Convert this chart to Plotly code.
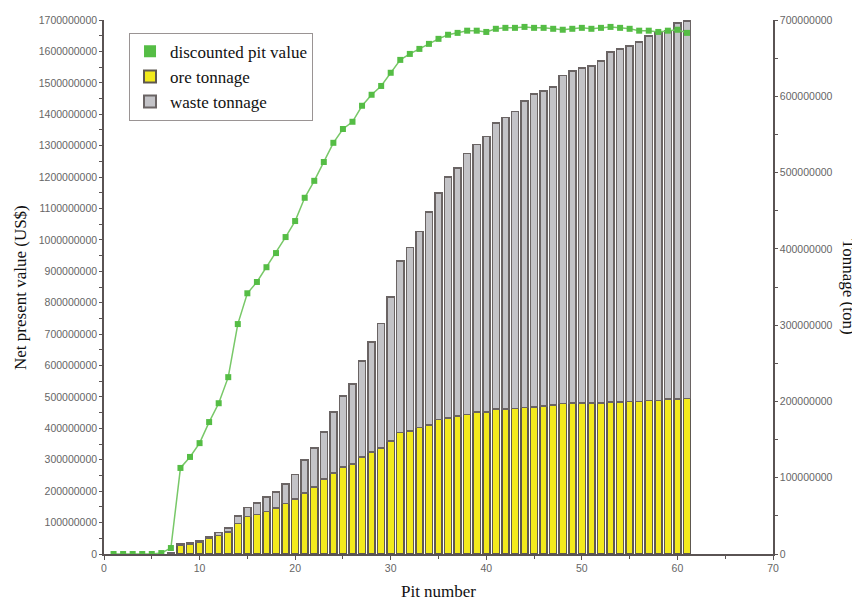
import plotly.graph_objects as go

# ---------------- data ----------------
npv_pits = list(range(1, 62))
npv_musd = [0, 0, 0, 0, 0, 3, 19, 274, 309, 353, 420, 480, 563, 732, 830, 866, 913, 958,
            1009, 1060, 1134, 1188, 1248, 1309, 1353, 1376, 1427, 1462, 1490, 1532, 1573,
            1592, 1608, 1624, 1640, 1653, 1659, 1666, 1666, 1662, 1672, 1675, 1675, 1678,
            1675, 1675, 1672, 1669, 1672, 1675, 1672, 1675, 1678, 1675, 1672, 1666, 1666,
            1662, 1666, 1669, 1659]

bar_pits = list(range(7, 62))
ore_mt = [1, 11, 13, 16, 20, 24, 29, 40, 49, 52, 56, 60, 66, 72, 80, 88, 98, 106, 114, 118,
          127, 134, 139, 148, 159, 161, 166, 169, 176, 178, 181, 183, 186, 186, 190, 190,
          191, 192, 193, 194, 195, 197, 198, 198, 198, 198, 199, 199, 200, 200, 201, 201,
          203, 203, 204]
waste_mt = [1, 2, 2, 2, 2, 4, 5, 10, 12, 15, 19, 21, 26, 32, 43, 51, 62, 80, 93, 105, 126,
            144, 163, 189, 225, 241, 257, 279, 297, 316, 325, 342, 351, 361, 375, 382, 389,
            402, 410, 413, 417, 430, 435, 439, 442, 448, 459, 463, 466, 471, 478, 482, 483,
            493, 495]

x_ticks = [0, 10, 20, 30, 40, 50, 60, 70]

npv = [v * 1e6 for v in npv_musd]
ore = [v * 1e6 for v in ore_mt]
waste = [v * 1e6 for v in waste_mt]

# ---------------- styling ----------------
GREEN = "#55bd45"
AXIS = "#5a5353"
TICKC = "#666666"
SERIF = "Liberation Serif, Times New Roman, serif"
SANS = "Liberation Sans, Arial, sans-serif"

fig = go.Figure()

fig.add_trace(go.Bar(
    x=bar_pits, y=ore, name="ore tonnage", yaxis="y", legendgroup="ore",
    marker=dict(color="#f2ea1c", line=dict(color="#5e5850", width=1.5)),
    width=0.74, legendrank=2,
))
fig.add_trace(go.Bar(
    x=bar_pits, y=waste, name="waste tonnage", yaxis="y", legendgroup="waste",
    marker=dict(color="#c3c3c7", line=dict(color="#6a6464", width=1.5)),
    width=0.74, legendrank=3,
))
fig.add_trace(go.Scatter(
    x=npv_pits, y=npv, mode="lines", yaxis="y2", showlegend=False, legendgroup="npv",
    line=dict(color="#78c868", width=1.5), hoverinfo="skip",
))
fig.add_trace(go.Scatter(
    x=npv_pits, y=npv, mode="markers", yaxis="y2", name="discounted pit value",
    legendgroup="npv",
    marker=dict(color=GREEN, symbol="square", size=6, line=dict(width=0)),
    legendrank=1,
))

tickfont = dict(family=SANS, size=10.5, color=TICKC)

fig.update_layout(
    width=852, height=594,
    margin=dict(l=96, r=87, t=12, b=48, autoexpand=False),
    paper_bgcolor="white", plot_bgcolor="white",
    barmode="stack", bargap=0.26,
    showlegend=True,
    legend=dict(
        x=0.0374, y=0.976, xanchor="left", yanchor="top",
        traceorder="normal",
        bgcolor="white", bordercolor="#9a9494", borderwidth=1,
        font=dict(family=SERIF, size=17, color="#111111"),
        tracegroupgap=4, itemsizing="constant",
    ),
    xaxis=dict(
        range=[0, 70], tickvals=x_ticks, ticks="outside", ticklen=4,
        tickcolor=AXIS, showline=True, linecolor=AXIS, linewidth=1.5,
        showgrid=False, zeroline=False, tickfont=tickfont, automargin=False,
        minor=dict(dtick=5, ticks="outside", ticklen=3, tickcolor=AXIS, showgrid=False),
        title=dict(text="Pit number", font=dict(family=SERIF, size=17, color="#111111"),
                   standoff=12),
    ),
    yaxis=dict(
        side="right", range=[0, 7e8], dtick=1e8, tickformat="d",
        ticks="outside", ticklen=3, tickcolor=AXIS, showline=True, linecolor=AXIS,
        linewidth=1.5, showgrid=False, zeroline=False, tickfont=tickfont, automargin=False,
        minor=dict(dtick=5e7, ticks="outside", ticklen=3, tickcolor=AXIS, showgrid=False),
    ),
    yaxis2=dict(
        side="left", overlaying="y", range=[0, 1.7e9], dtick=1e8, tickformat="d",
        ticks="outside", ticklen=3, tickcolor=AXIS, showline=True, linecolor=AXIS,
        linewidth=1.5, showgrid=False, zeroline=False, tickfont=tickfont, automargin=False,
        minor=dict(dtick=5e7, ticks="outside", ticklen=3, tickcolor=AXIS, showgrid=False),
    ),
    annotations=[
        dict(text="Net present value (US$)", xref="paper", yref="paper",
             x=-0.1256, y=0.5, textangle=-90, showarrow=False,
             font=dict(family=SERIF, size=17, color="#111111"),
             xanchor="center", yanchor="middle"),
        dict(text="Tonnage (ton)", xref="paper", yref="paper",
             x=1.1136, y=0.5, textangle=90, showarrow=False,
             font=dict(family=SERIF, size=17, color="#111111"),
             xanchor="center", yanchor="middle"),
    ],
)

fig.write_html("out.html")
